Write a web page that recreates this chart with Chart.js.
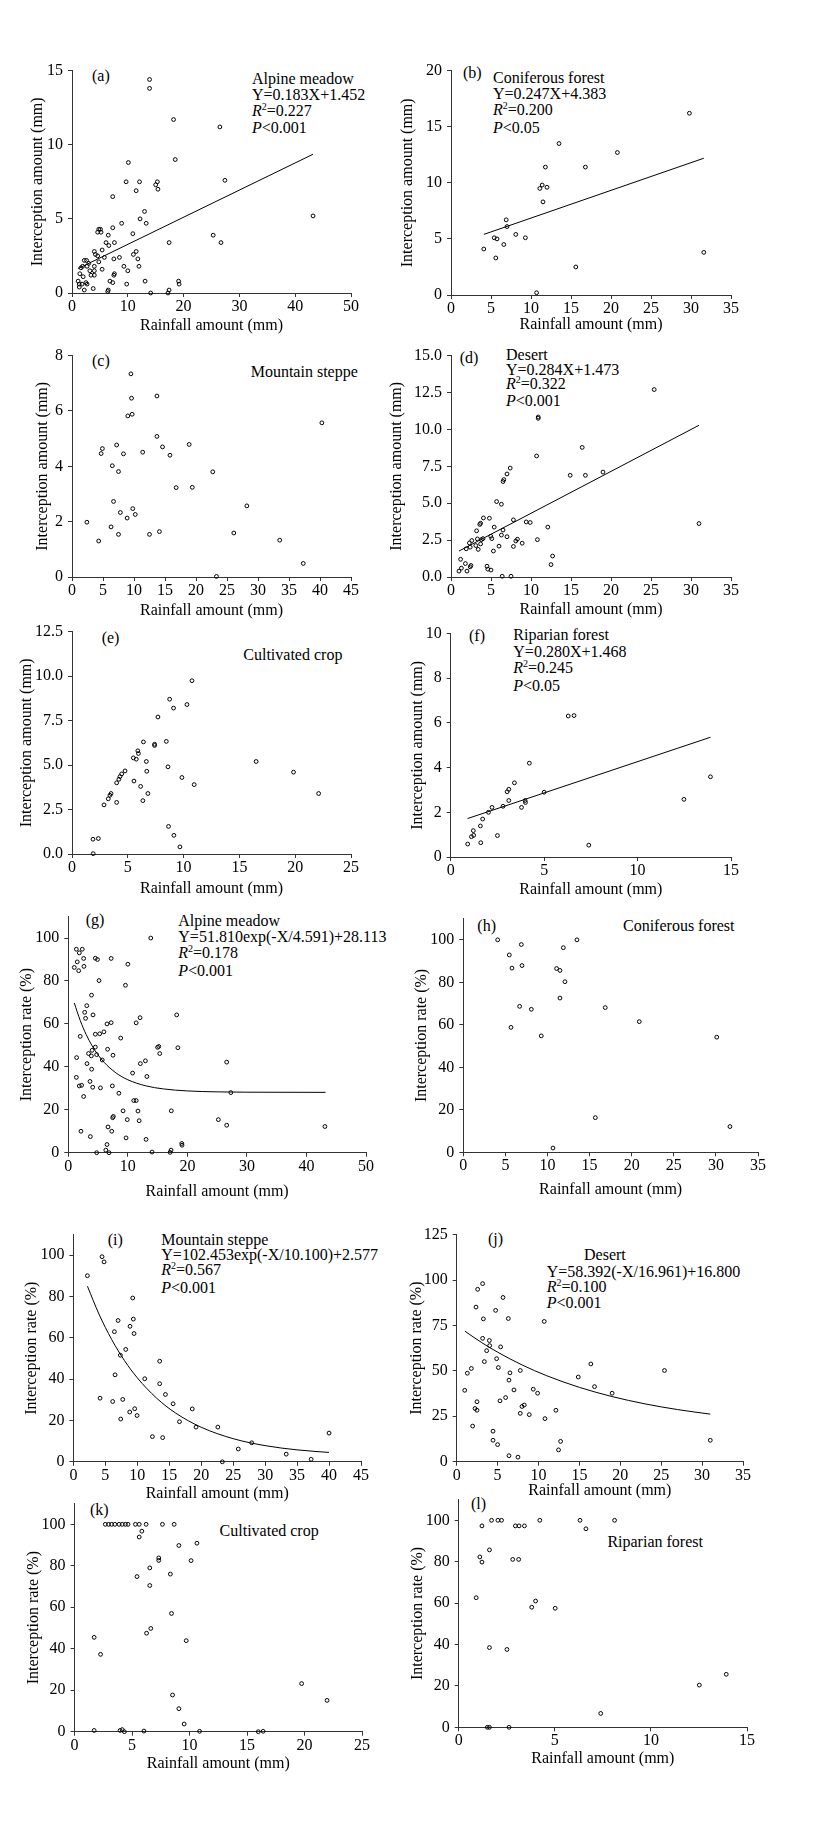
<!DOCTYPE html>
<html>
<head>
<meta charset="utf-8">
<script src="https://cdn.jsdelivr.net/npm/chart.js@4.4.1/dist/chart.umd.min.js"></script>
<style>
  body { margin: 0; background: #fff; }
  #fig { position: relative; width: 828px; height: 1844px; background: #fff; overflow: hidden; }
  #fig canvas { position: absolute; }
  .note { position: absolute; font-family: 'Liberation Serif', 'Times New Roman', serif; font-size: 16px; line-height: 16px; color: #000; white-space: nowrap; }
  .s { position: relative; top: -6px; font-size: 10px; }
</style>
</head>
<body>
<div id="fig">
  <div class="note" style="left:92px;top:67.6px">(a)</div>
  <div class="note" style="left:252px;top:71px;line-height:15.8px">Alpine meadow<br>Y=0.183X+1.452<br><i>R</i><span class="s">2</span>=0.227<br><i>P</i>&lt;0.001</div>

  <div class="note" style="left:463px;top:64.6px">(b)</div>
  <div class="note" style="left:493px;top:70px;line-height:15.9px">Coniferous forest<br>Y=0.247X+4.383<br><i>R</i><span class="s">2</span>=0.200<br><i>P</i>&lt;0.05</div>

  <div class="note" style="left:92px;top:352.6px">(c)</div>
  <div class="note" style="left:250.7px;top:364.3px">Mountain steppe</div>

  <div class="note" style="left:459.7px;top:349.9px">(d)</div>
  <div class="note" style="left:506px;top:348px;line-height:14.5px">Desert<br>Y=0.284X+1.473<br><i>R</i><span class="s">2</span>=0.322<br><i>P</i>&lt;0.001</div>

  <div class="note" style="left:101.7px;top:629.9px">(e)</div>
  <div class="note" style="left:243.3px;top:647.1px">Cultivated crop</div>

  <div class="note" style="left:469px;top:628.3px">(f)</div>
  <div class="note" style="left:513.3px;top:627.1px;line-height:16.4px">Riparian forest<br>Y=0.280X+1.468<br><i>R</i><span class="s">2</span>=0.245<br><i>P</i>&lt;0.05</div>

  <div class="note" style="left:85.7px;top:911.6px">(g)</div>
  <div class="note" style="left:178.3px;top:912.6px;line-height:16.1px">Alpine meadow<br>Y=51.810exp(-X/4.591)+28.113<br><i>R</i><span class="s">2</span>=0.178<br><i>P</i>&lt;0.001</div>

  <div class="note" style="left:477.3px;top:917.6px">(h)</div>
  <div class="note" style="left:623px;top:917.6px">Coniferous forest</div>

  <div class="note" style="left:107.7px;top:1231.6px">(i)</div>
  <div class="note" style="left:161.3px;top:1232px;line-height:15.2px">Mountain steppe<br>Y=102.453exp(-X/10.100)+2.577<br><i>R</i><span class="s">2</span>=0.567<br><i>P</i>&lt;0.001</div>

  <div class="note" style="left:488px;top:1230.9px">(j)</div>
  <div class="note" style="left:584px;top:1247.3px">Desert</div>
  <div class="note" style="left:546.7px;top:1264.9px;line-height:14.8px">Y=58.392(-X/16.961)+16.800<br><i>R</i><span class="s">2</span>=0.100<br><i>P</i>&lt;0.001</div>

  <div class="note" style="left:90px;top:1501.6px">(k)</div>
  <div class="note" style="left:219.6px;top:1522.6px">Cultivated crop</div>

  <div class="note" style="left:470.9px;top:1495.6px">(l)</div>
  <div class="note" style="left:607.4px;top:1533.9px">Riparian forest</div>
</div>
<script>
// (a) Alpine meadow, interception amount (mm)
const aRain = [13.9,13.9,18.2,26.5,18.5,10.1,27.4,9.7,12.1,15.3,15.0,15.4,11.5,7.3,13.0,12.2,13.3,8.9,43.2,4.8,5.1,7.3,4.6,5.2,10.9,6.5,25.3,6.1,7.6,6.6,17.4,26.7,4.0,5.4,11.5,11.0,4.2,5.8,4.6,8.5,7.5,11.8,2.6,2.2,3.0,4.8,2.7,1.6,1.9,4.0,9.3,12.0,5.4,10.0,3.2,4.0,1.4,3.4,4.0,7.6,7.5,2.0,1.1,6.8,13.1,19.1,7.3,9.8,19.2,1.3,2.5,2.7,1.8,1.3,2.2,3.8,6.5,6.4,14.1,17.4,17.2];
const aInter = [14.4,13.8,11.7,11.2,9.0,8.8,7.6,7.5,7.5,7.5,7.3,7.0,6.9,6.5,5.5,5.0,4.7,4.7,5.2,4.3,4.3,4.4,4.1,4.1,4.0,3.9,3.9,3.4,3.4,3.2,3.4,3.4,2.8,2.9,2.8,2.6,2.6,2.4,2.5,2.4,2.3,2.3,2.2,2.2,2.0,2.1,1.8,1.7,1.8,1.8,1.8,1.8,1.6,1.5,1.5,1.5,1.3,1.2,1.2,1.3,1.2,1.1,0.8,0.8,0.8,0.8,0.7,0.6,0.6,0.6,0.7,0.6,0.6,0.4,0.2,0.3,0.2,0.1,0.0,0.2,0.0];
const aFitRain = [1.1, 43.2];
const aFitInter = [1.65, 9.36];

// (b) Coniferous forest, interception amount (mm)
const bRain = [29.8,13.5,20.8,11.8,16.8,11.4,11.1,12.0,11.5,6.9,7.0,8.1,5.4,5.75,9.3,4.1,6.6,5.6,31.6,15.6,10.7];
const bInter = [16.2,13.5,12.7,11.4,11.4,9.8,9.5,9.6,8.3,6.7,6.1,5.4,5.1,5.0,5.1,4.1,4.5,3.3,3.8,2.5,0.2];
const bFitRain = [4.1, 31.6];
const bFitInter = [5.40, 12.19];

// (c) Mountain steppe, interception amount (mm)
const cRain = [9.5,9.6,13.7,9.0,9.7,40.3,13.7,7.2,4.9,4.7,8.3,11.4,14.6,18.9,15.8,6.5,7.5,22.7,16.8,19.4,6.7,28.2,9.8,7.8,10.2,8.9,2.4,6.3,4.3,7.5,12.5,14.1,26.1,33.5,37.3,23.3];
const cInter = [7.34,6.46,6.54,5.82,5.88,5.57,5.08,4.77,4.64,4.46,4.45,4.51,4.70,4.79,4.40,4.02,3.81,3.80,3.23,3.24,2.73,2.57,2.47,2.33,2.26,2.13,1.98,1.81,1.30,1.54,1.54,1.64,1.59,1.33,0.49,0.02];

// (d) Desert, interception amount (mm)
const dRain = [25.4,10.9,10.9,10.7,16.4,14.9,16.8,19.0,7.4,7.0,6.6,6.5,5.7,6.3,7.8,9.4,9.9,12.1,31.0,4.05,4.8,3.7,3.6,5.4,3.2,6.5,4.97,5.1,6.3,7.0,4.0,3.8,3.3,8.3,8.1,10.8,2.6,2.3,3.7,3.1,2.4,6.0,7.8,8.9,1.9,3.4,5.3,12.7,12.5,1.2,1.8,2.5,2.4,4.5,1.3,1.0,2.0,4.6,5.0,6.4,7.5];
const dInter = [12.7,10.84,10.75,8.2,8.78,6.89,6.89,7.11,7.38,6.98,6.6,6.47,5.11,4.93,3.87,3.73,3.69,3.38,3.62,4.0,3.98,3.64,3.56,3.38,3.13,3.18,2.76,2.6,2.84,2.73,2.6,2.53,2.58,2.56,2.44,2.53,2.47,2.31,2.24,2.13,2.02,2.09,2.07,2.29,1.91,1.87,1.76,1.42,0.84,1.2,0.91,0.78,0.69,0.73,0.6,0.4,0.4,0.53,0.47,0.05,0.05];
const dFitRain = [1.0, 31.0];
const dFitInter = [1.76, 10.28];

// (e) Cultivated crop, interception amount (mm)
const eRain = [10.75,8.75,9.1,10.3,7.7,6.4,7.4,7.4,8.45,5.5,5.9,5.95,5.76,6.66,16.5,19.85,8.6,6.7,4.75,4.45,4.3,4.2,4.0,5.55,9.85,10.95,22.1,6.15,6.8,6.35,4.0,3.5,3.4,3.25,2.87,8.65,9.13,9.67,1.88,2.36,1.9];
const eInter = [9.74,8.7,8.2,8.4,7.7,6.3,6.17,6.1,6.33,5.4,5.8,5.65,5.33,5.2,5.2,4.6,4.9,4.65,4.67,4.5,4.35,4.2,4.0,4.1,4.3,3.9,3.4,3.8,3.4,3.0,2.9,3.4,3.3,3.1,2.76,1.55,1.05,0.4,0.83,0.87,0.02];

// (f) Riparian forest, interception amount (mm)
const fRain = [6.29,6.6,4.21,13.9,3.41,3.02,3.11,3.11,5.0,4.0,3.98,3.79,12.48,2.8,2.21,2.02,1.71,1.59,1.21,1.23,1.11,2.5,1.61,0.91,7.39];
const fInter = [6.31,6.33,4.2,3.59,3.32,2.92,3.03,2.53,2.9,2.44,2.53,2.22,2.58,2.27,2.22,2.0,1.7,1.39,1.18,0.97,0.91,0.96,0.64,0.58,0.53];
const fFitRain = [0.9, 13.9];
const fFitInter = [1.72, 5.36];

// (g) Alpine meadow, interception rate (%)
const gRain = [13.85,1.35,2.35,1.85,1.5,1.0,1.74,2.58,2.63,4.54,4.9,7.2,10.0,5.16,9.6,3.9,3.1,2.75,2.9,4.15,12.05,18.2,11.4,7.2,6.5,5.98,5.27,4.54,2.0,8.8,4.54,15.0,15.2,18.4,6.6,4.0,3.4,3.87,4.76,7.5,15.36,1.4,5.7,12.95,12.1,26.6,3.14,3.92,10.8,13.2,1.35,3.64,1.85,2.24,4.1,5.4,7.4,8.5,27.3,2.58,11.0,11.4,9.2,11.7,17.3,7.57,7.45,9.9,11.9,25.2,26.6,43.1,6.67,2.13,7.3,3.7,9.7,13.06,6.5,19.06,19.1,6.3,17.26,4.76,6.84,14.07,17.1];
const gRate = [100,94.8,94.8,93.1,88.9,86.3,84.8,90.5,86.8,90.6,90,90.5,87.8,80.2,78,73.4,68.5,65.4,62.6,64.2,62.9,64.2,60.5,60.6,60,56.3,55.4,55.2,54.2,53.4,49.2,49.1,49.5,48.9,48.2,47.7,46.2,45.1,45.7,45.4,46.2,44.3,43.2,42.8,41.5,42.2,41.5,38.9,37.1,35.5,35.1,33.2,31.1,31.4,30.5,30.2,31.1,27.7,28,26.2,24.3,24.3,19.5,19.4,19.5,16.9,16.3,15.4,14.9,15.4,12.8,12.2,12.0,10.0,10.0,7.5,6.9,6.2,3.8,4.3,3.5,1.2,1.2,0,0,0.3,0.15];
const gFitRain = [1.0,2,3,4,5,6,8,10,13,16,20,25,30,43.2];
const gFitRate = [69.78,61.63,55.06,49.79,45.55,42.14,37.18,33.98,31.17,29.70,28.78,28.34,28.19,28.11];

// (h) Coniferous forest, interception rate (%)
const hRain = [4.08,13.5,6.89,11.88,5.46,6.97,5.78,11.08,11.48,12.07,11.48,6.69,8.08,16.86,20.9,5.66,9.26,30.1,15.68,31.67,10.65];
const hRate = [100,100,97.8,96.3,92.9,87.9,86.7,86.5,85.6,80.3,72.6,68.7,67.3,68.1,61.5,58.8,54.8,54.2,16.3,12.1,2.0];

// (i) Mountain steppe, interception rate (%)
const iRain = [4.48,4.8,2.19,9.28,9.38,6.99,8.86,6.41,9.49,8.19,7.35,13.5,6.52,11.16,13.5,14.4,4.17,6.15,7.72,15.6,18.6,9.59,8.81,9.96,7.4,16.6,19.19,22.6,40.0,12.36,13.97,27.9,25.8,33.3,37.2,23.3];
const iRate = [99.3,96.8,90.1,79.3,69.1,68.4,65.6,63.0,62.1,54.4,51.6,48.7,42.1,40.2,37.8,32.6,30.8,29.2,30.2,28.1,25.6,25.7,24.1,22.4,20.7,19.4,16.8,16.8,13.9,12.2,11.7,9.2,6.2,3.7,1.2,0];
const iFitRain = [2.2,4,6,8,10,13,16,20,25,30,35,40];
const iFitRate = [84.98,71.53,59.15,48.98,40.65,30.87,23.59,16.73,11.20,7.83,5.78,4.53];

// (j) Desert, interception rate (%)
const jRain = [3.17,2.56,5.66,2.36,4.76,3.26,6.31,10.7,3.17,3.99,4.03,5.37,3.66,4.88,3.38,16.4,5.09,1.79,1.3,6.51,7.77,25.4,14.86,6.39,16.85,0.98,7.0,9.36,9.89,19.0,5.98,5.29,2.48,8.26,7.98,2.24,2.48,12.13,7.77,8.87,10.79,1.95,4.44,4.44,5.0,12.7,12.45,31.0,6.39,7.49];
const jRate = [98.0,94.9,90.4,85.1,83.3,78.6,78.8,77.2,67.9,66.7,63.9,63.2,61.1,56.7,55.1,53.8,51.8,51.3,48.7,48.9,50.2,50.2,46.6,44.9,41.3,39.3,39.5,39.9,37.7,37.7,35.3,33.5,33.0,31.2,30.4,29.3,28.3,28.3,26.6,25.9,23.7,19.6,16.8,11.8,9.4,11.2,6.5,11.8,3.3,2.5];
const jFitRain = [1,3,5,8,11,15,19,23,27,31];
const jFitRate = [71.85,65.73,60.29,53.24,47.33,40.92,35.85,31.85,28.69,26.19];

// (k) Cultivated crop, interception rate (%)
const kRain = [2.67,2.95,3.22,3.5,3.87,4.14,4.42,4.65,5.29,5.62,6.22,7.64,8.66,5.85,5.62,9.07,10.64,7.32,7.32,10.13,6.54,8.33,5.43,6.54,8.43,6.63,6.26,1.7,9.71,2.26,19.75,21.96,8.52,9.07,9.53,1.7,3.96,4.14,4.33,6.03,10.87,15.98,16.4];
const kRate = [100,100,100,100,100,100,100,100,100,100,100,100,100,96.7,93.9,89.8,90.9,83.8,82.6,82.5,79.0,76.0,74.8,70.5,57.0,49.8,47.5,45.5,43.9,37.3,23.2,15.1,17.7,11.1,3.7,0.6,0.6,1.0,0,0.3,0.2,0,0.2];

// (l) Riparian forest, interception rate (%)
const lRain = [1.71,2.04,2.23,4.22,6.31,8.11,1.21,2.95,3.14,3.42,6.62,1.6,1.1,1.21,2.81,3.12,0.91,4.0,3.8,5.02,1.6,2.51,7.39,12.52,13.92,1.49,1.6,2.62];
const lRate = [100,100,100,100,100,100,97.3,97.3,97.3,97.3,95.9,85.7,82.3,79.8,81.1,81.1,62.6,61.0,58.0,57.5,38.5,37.6,6.7,20.4,25.6,0,0,0];

const AMOUNT = 'Interception amount (mm)';
const RATE = 'Interception rate (%)';
const RAIN = 'Rainfall amount (mm)';
const FONT = "'Liberation Serif', 'Times New Roman', serif";
const AXIS = '#333';

Chart.defaults.font.family = FONT;
Chart.defaults.font.size = 16;
Chart.defaults.color = '#000';

function pts(xs, ys) {
  return xs.map((x, i) => ({ x: x, y: ys[i] }));
}

function makePanel(p) {
  const PT = 12, PR = 14;
  const left = Math.round(p.box.yt - 9.6);
  const top = Math.round(p.box.t - PT);
  const width = Math.round(p.box.r + PR - left);
  const height = Math.round(p.box.xt + 9.6 - top);
  const yW = p.box.l - left;
  const xH = top + height - p.box.b;

  const cv = document.createElement('canvas');
  cv.width = width;
  cv.height = height;
  cv.style.left = left + 'px';
  cv.style.top = top + 'px';
  cv.style.width = width + 'px';
  cv.style.height = height + 'px';
  document.getElementById('fig').appendChild(cv);

  const datasets = [{
    data: pts(p.xs, p.ys),
    pointRadius: 1.9,
    pointHoverRadius: 1.9,
    borderWidth: 1,
    borderColor: '#000',
    backgroundColor: 'rgba(255,255,255,0)',
    clip: false
  }];
  if (p.fx) {
    datasets.push({
      data: pts(p.fx, p.fy),
      showLine: true,
      pointRadius: 0,
      borderColor: '#000',
      borderWidth: 1,
      cubicInterpolationMode: 'monotone',
      clip: false
    });
  }

  const axisCommon = {
    type: 'linear',
    min: 0,
    grid: { display: true, drawOnChartArea: false, drawTicks: true, tickLength: 4, tickColor: AXIS },
    border: { display: true, color: AXIS, width: 1 }
  };

  new Chart(cv, {
    type: 'scatter',
    data: { datasets },
    options: {
      responsive: false,
      animation: false,
      events: [],
      layout: { padding: { top: PT, right: PR, left: 0, bottom: 0 } },
      plugins: { legend: { display: false }, tooltip: { enabled: false } },
      scales: {
        x: Object.assign({}, axisCommon, {
          max: p.xMax,
          ticks: { stepSize: p.xStep, padding: 0, maxRotation: 0, autoSkip: false, includeBounds: false, color: '#000' },
          title: { display: true, text: RAIN, padding: 0, color: '#000' },
          afterFit: s => { s.height = xH; }
        }),
        y: Object.assign({}, axisCommon, {
          max: p.yMax,
          ticks: {
            stepSize: p.yStep, padding: 5, autoSkip: false, includeBounds: false, color: '#000',
            callback: v => v.toFixed(p.dec)
          },
          title: { display: true, text: p.yTitle, padding: 0, color: '#000' },
          afterFit: s => { s.width = yW; }
        })
      }
    }
  });
}

const panels = [
  { xs: aRain, ys: aInter, fx: aFitRain, fy: aFitInter, xMax: 50, xStep: 10, yMax: 15, yStep: 5, dec: 0, yTitle: AMOUNT,
    box: { l: 72, r: 351, t: 68, b: 293, yt: 38, xt: 325 } },
  { xs: bRain, ys: bInter, fx: bFitRain, fy: bFitInter, xMax: 35, xStep: 5, yMax: 20, yStep: 5, dec: 0, yTitle: AMOUNT,
    box: { l: 451, r: 731, t: 68, b: 295, yt: 408, xt: 324 } },
  { xs: cRain, ys: cInter, xMax: 45, xStep: 5, yMax: 8, yStep: 2, dec: 0, yTitle: AMOUNT,
    box: { l: 72, r: 351, t: 352.7, b: 577, yt: 43, xt: 610 } },
  { xs: dRain, ys: dInter, fx: dFitRain, fy: dFitInter, xMax: 35, xStep: 5, yMax: 15, yStep: 2.5, dec: 1, yTitle: AMOUNT,
    box: { l: 451, r: 731.3, t: 353.3, b: 577, yt: 397, xt: 609 } },
  { xs: eRain, ys: eInter, xMax: 25, xStep: 5, yMax: 12.5, yStep: 2.5, dec: 1, yTitle: AMOUNT,
    box: { l: 72, r: 351, t: 629.3, b: 854, yt: 27, xt: 888 } },
  { xs: fRain, ys: fInter, fx: fFitRain, fy: fFitInter, xMax: 15, xStep: 5, yMax: 10, yStep: 2, dec: 0, yTitle: AMOUNT,
    box: { l: 450.7, r: 730.7, t: 631, b: 857, yt: 418, xt: 889 } },
  { xs: gRain, ys: gRate, fx: gFitRain, fy: gFitRate, xMax: 50, xStep: 10, yMax: 110, yStep: 20, dec: 0, yTitle: RATE,
    box: { l: 68.3, r: 365.7, t: 914.4, b: 1152.7, yt: 27, xt: 1191 } },
  { xs: hRain, ys: hRate, xMax: 35, xStep: 5, yMax: 110, yStep: 20, dec: 0, yTitle: RATE,
    box: { l: 463.3, r: 758, t: 915.5, b: 1152.3, yt: 422, xt: 1189 } },
  { xs: iRain, ys: iRate, fx: iFitRain, fy: iFitRate, xMax: 45, xStep: 5, yMax: 110, yStep: 20, dec: 0, yTitle: RATE,
    box: { l: 73.4, r: 361.4, t: 1231.8, b: 1461.8, yt: 32, xt: 1493 } },
  { xs: jRain, ys: jRate, fx: jFitRain, fy: jFitRate, xMax: 35, xStep: 5, yMax: 125, yStep: 25, dec: 0, yTitle: RATE,
    box: { l: 456.7, r: 743.3, t: 1231.7, b: 1461.7, yt: 417, xt: 1490 } },
  { xs: kRain, ys: kRate, xMax: 25, xStep: 5, yMax: 110, yStep: 20, dec: 0, yTitle: RATE,
    box: { l: 74.6, r: 362, t: 1501.3, b: 1731.7, yt: 34, xt: 1763 } },
  { xs: lRain, ys: lRate, xMax: 15, xStep: 5, yMax: 110, yStep: 20, dec: 0, yTitle: RATE,
    box: { l: 458.7, r: 746.6, t: 1497, b: 1727.3, yt: 418, xt: 1758 } }
];

panels.forEach(makePanel);
</script>
</body>
</html>
